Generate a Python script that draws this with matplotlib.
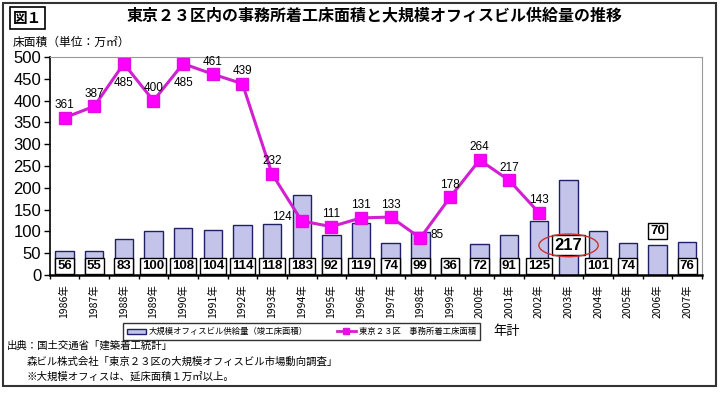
import numpy as np
import matplotlib.pyplot as plt
from matplotlib.patches import Ellipse, Rectangle, Patch
from matplotlib.lines import Line2D

plt.rcParams['font.family'] = ['Noto Sans CJK JP', 'DejaVu Sans']

# dados
anos = list(range(1986, 2008))
anos_lbl = [f"{a}年" for a in anos]
oferta = [56, 55, 83, 100, 108, 104, 114, 118, 183, 92, 119, 74, 99, 36, 72, 91, 125, 217, 101, 74, 70, 76]
inicio = [361, 387, 485, 400, 485, 461, 439, 232, 124, 111, 131, 133, 85, 178, 264, 217, 143]

titulo = "東京２３区内の事務所着工床面積と大規模オフィスビル供給量の推移"
nome_bar = "大規模オフィスビル供給量（竣工床面積）"
nome_lin = "東京２３区　事務所着工床面積"

# deslocamento dos rotulos da linha (pontos)
desl = {0: (0, 9), 2: (0, -14), 4: (0, -14), 8: (-14, 3), 12: (12, 2)}

fig = plt.figure(figsize=(7.2, 3.94), dpi=100)
ax = fig.add_axes([0.069, 0.302, 0.906, 0.553])

x = np.arange(len(anos))
ax.bar(x, oferta, width=0.62, color='#c4c4ea', edgecolor='#20206a', linewidth=1.0, zorder=2)
ax.plot(x[:len(inicio)], inicio, color='#d020d0', linewidth=2.2, marker='s', markersize=8,
        markerfacecolor='#ff00ff', markeredgecolor='#e010e0', zorder=4)

# rotulos das barras
for i, v in enumerate(oferta):
    y, fs = 20, 9.5
    if anos[i] == 2003:
        y, fs = 68, 12
    elif anos[i] == 2006:
        y = 100
    ax.text(i, y, str(v), ha='center', va='center', fontsize=fs, fontweight='bold',
            family=['Liberation Sans', 'DejaVu Sans'], zorder=5,
            bbox=dict(boxstyle='square,pad=0.15', fc='white', ec='black', lw=1.0))

# elipse vermelha em 2003
i03 = anos.index(2003)
ax.add_patch(Ellipse((i03, 68), 2.0, 52, fill=False, ec='#d03030', lw=1.0, zorder=6))

# rotulos da linha
for i, v in enumerate(inicio):
    dx, dy = desl.get(i, (0, 9))
    ax.annotate(str(v), (i, v), xytext=(dx, dy), textcoords='offset points',
                ha='center', va='center', fontsize=8.5,
                family=['Liberation Sans', 'DejaVu Sans'], zorder=5)

ax.set_xlim(-0.5, len(anos) - 0.5)
ax.set_ylim(0, 500)
ax.set_yticks(range(0, 501, 50))
ax.set_yticklabels([str(t) for t in range(0, 501, 50)], family=['Liberation Sans', 'DejaVu Sans'], fontsize=12)
ax.tick_params(axis='y', length=4, width=1, pad=2)
ax.set_xticks(x)
ax.set_xticklabels(anos_lbl, rotation=90, fontsize=7.5)
ax.tick_params(axis='x', length=0, pad=7)
ax.set_xticks(np.arange(-0.5, len(anos), 1), minor=True)
ax.tick_params(axis='x', which='minor', length=3, width=1)
for s in ['top', 'right']:
    ax.spines[s].set_color('#999999')
ax.spines['left'].set_linewidth(1.2)
ax.spines['bottom'].set_linewidth(1.8)

# textos
fig.text(0.52, 0.962, titulo, ha='center', va='center', fontsize=11.5, fontweight='bold')
fig.text(0.038, 0.955, "図１", ha='center', va='center', fontsize=10.5, fontweight='bold',
         bbox=dict(boxstyle='square,pad=0.2', fc='white', ec='black', lw=1.2))
fig.text(0.018, 0.893, "床面積（単位：万㎡）", ha='left', va='center', fontsize=8.5)
fig.text(0.685, 0.158, "年計", ha='left', va='center', fontsize=9.5)

hs = [Patch(fc='#c4c4ea', ec='#20206a', lw=1.0),
      Line2D([], [], color='#d020d0', lw=2, marker='s', markersize=5, markerfacecolor='#ff00ff')]
leg = fig.legend(hs, [nome_bar, nome_lin], ncol=2, loc='center', bbox_to_anchor=(0.419, 0.158),
                 fontsize=6, frameon=True, fancybox=False, edgecolor='black', handlelength=2.2,
                 columnspacing=3.5, borderpad=0.45, handleheight=0.6, handletextpad=0.4)
leg.get_frame().set_linewidth(1.0)

fig.text(0.01, 0.122, "出典：国土交通省「建築着工統計」", ha='left', va='center', fontsize=7.5)
fig.text(0.037, 0.083, "森ビル株式会社「東京２３区の大規模オフィスビル市場動向調査」", ha='left', va='center', fontsize=7.5)
fig.text(0.037, 0.045, "※大規模オフィスは、延床面積１万㎡以上。", ha='left', va='center', fontsize=7.5)

# moldura externa
fig.add_artist(Rectangle((0.004, 0.02), 0.99, 0.972, transform=fig.transFigure,
                         fill=False, ec='#333333', lw=1.5))

fig.savefig('out.png', dpi=100)
